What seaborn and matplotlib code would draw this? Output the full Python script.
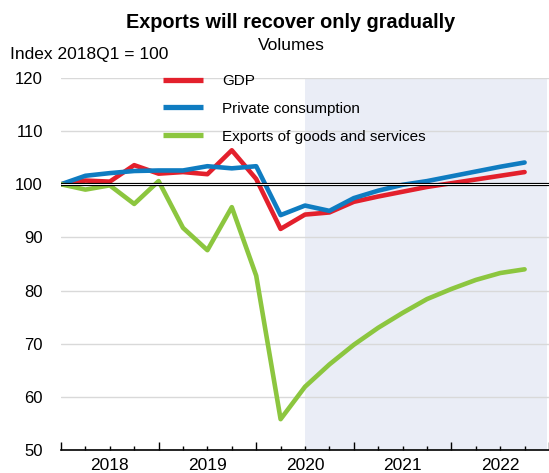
import numpy as np
import pandas as pd
import matplotlib
matplotlib.use("Agg")
import matplotlib.pyplot as plt
import seaborn as sns

# --- Data (index 2018Q1 = 100) ---
quarters = [f"{y}Q{q}" for y in range(2018, 2023) for q in range(1, 5)]
years = ["2018", "2019", "2020", "2021", "2022"]
gdp = [100.0, 100.7, 100.5, 103.6, 102.0, 102.3, 101.9, 106.4, 101.0, 91.6,
       94.3, 94.7, 96.7, 97.7, 98.6, 99.5, 100.2, 100.9, 101.6, 102.3]
consumption = [100.0, 101.6, 102.1, 102.5, 102.6, 102.6, 103.4, 103.0, 103.4, 94.2,
               96.0, 95.0, 97.4, 98.8, 99.9, 100.6, 101.5, 102.4, 103.3, 104.1]
exports = [100.0, 99.0, 99.8, 96.3, 100.6, 91.8, 87.6, 95.7, 82.8, 55.8,
           61.9, 66.1, 69.8, 73.0, 75.8, 78.4, 80.3, 82.0, 83.3, 84.0]
series_names = ["GDP", "Private consumption", "Exports of goods and services"]
forecast_start = "2020Q3"

COLORS = {"GDP": "#e3202c", "Private consumption": "#0f7cc1",
          "Exports of goods and services": "#8cc63f"}

rows = []
for name, vals in zip(series_names, [gdp, consumption, exports]):
    for i, (q, v) in enumerate(zip(quarters, vals)):
        rows.append({"quarter": q, "pos": i, "value": v, "series": name})
df = pd.DataFrame(rows)

sns.set_theme(style="white")
plt.rcParams["font.family"] = ["Liberation Sans", "DejaVu Sans"]
plt.rcParams["text.color"] = "black"
plt.rcParams["xtick.color"] = "black"
plt.rcParams["ytick.color"] = "black"

fig = plt.figure(figsize=(5.49, 4.73), dpi=100)
ax = fig.add_axes([61 / 549, 23 / 473, 488 / 549, 372 / 473])

n = len(quarters)
xmax = (549 - 61) / 24.5
ax.set_xlim(0, xmax)
ax.set_ylim(50, 120)

# forecast shading
ax.axvspan(quarters.index(forecast_start), xmax, color="#eaedf6", zorder=0, lw=0)

sns.lineplot(data=df, x="pos", y="value", hue="series", palette=COLORS,
             hue_order=series_names, linewidth=3.3, ax=ax, zorder=3)

# 100 reference line (double line)
ax.axhline(100, color="black", lw=2.3, zorder=5)
ax.axhline(100, color="white", lw=0.7, zorder=6)

# y axis
ax.set_yticks(np.arange(50, 121, 10))
ax.yaxis.grid(True, color="#d9d9d9", lw=1.0, zorder=1)
ax.set_axisbelow(True)
ax.tick_params(axis="y", length=0, pad=13, labelsize=12, labelcolor="black")

# x axis: year boundaries (major) and quarters (minor)
ax.set_xticks(np.arange(0, n + 1, 4))
ax.set_xticks(np.arange(0, n + 1), minor=True)
ax.set_xticklabels([])
ax.tick_params(axis="x", which="major", direction="in", length=5.8, width=1.0, color="black")
ax.tick_params(axis="x", which="minor", direction="in", length=3.2, width=1.0, color="black")
ax.xaxis.set_tick_params(bottom=True, which="both")
for i, yr in enumerate(years):
    ax.text(4 * i + 2, -0.043, yr, transform=ax.get_xaxis_transform(),
            ha="center", va="center", fontsize=12.5, color="black")

ax.set_xlabel("")
ax.set_ylabel("")
for s in ["left", "right", "top"]:
    ax.spines[s].set_visible(False)
ax.spines["bottom"].set_color("black")
ax.spines["bottom"].set_linewidth(1.2)

# legend
handles, labels = ax.get_legend_handles_labels()
leg = ax.legend(handles, labels, loc="upper left", frameon=False,
                bbox_to_anchor=(163 / 549, 1 - 74 / 473), bbox_transform=fig.transFigure,
                borderaxespad=0, borderpad=0, fontsize=11, handlelength=2.65,
                handletextpad=1.2, labelspacing=0.9)
for h in leg.get_lines():
    h.set_linewidth(3.8)
    h.set_solid_capstyle("butt")
for t in leg.get_texts():
    t.set_color("black")

# titles
fig.text(291 / 549, 1 - 22 / 473, "Exports will recover only gradually",
         ha="center", va="center", fontsize=14.3, fontweight="bold", color="black")
fig.text(291 / 549, 1 - 46 / 473, "Volumes", ha="center", va="center", fontsize=12.5, color="black")
fig.text(10 / 549, 1 - 55 / 473, "Index 2018Q1 = 100", ha="left", va="center", fontsize=12.5, color="black")

fig.savefig("out.png", dpi=100)
